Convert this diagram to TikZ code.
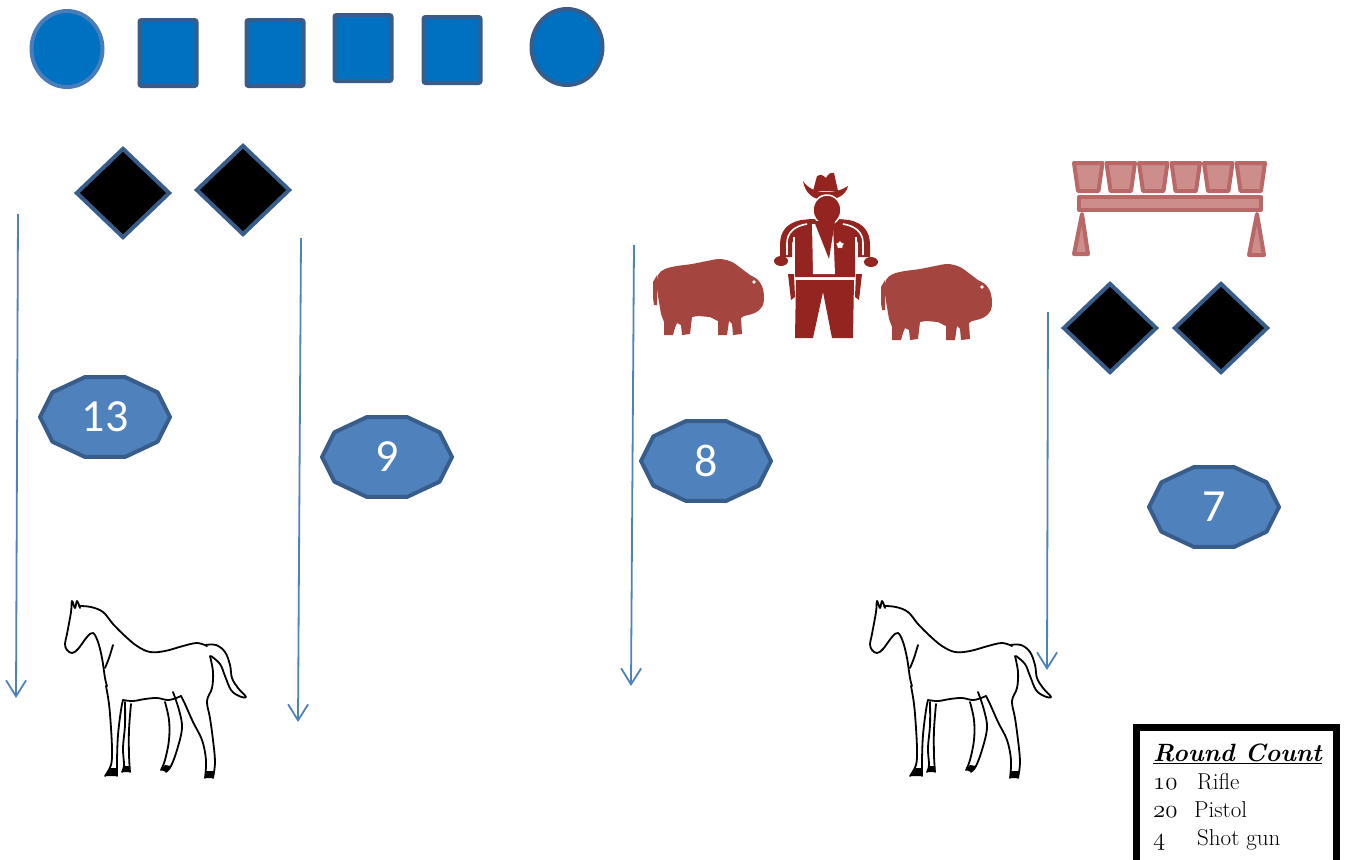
\documentclass[tikz,border=0pt]{standalone}
\usepackage{fontspec}
\newfontfamily\postfont{Carlito}
\usetikzlibrary{positioning,shapes.geometric,arrows.meta}
\definecolor{tgtblue}{HTML}{0070C0}
\definecolor{tgtedge}{HTML}{385D8A}
\definecolor{tgtlight}{HTML}{4A7EBB}
\definecolor{postfill}{HTML}{4F81BD}
\definecolor{runblue}{HTML}{4F81BD}
\definecolor{propred}{HTML}{93241F}
\definecolor{bisonred}{HTML}{A4453F}
\definecolor{rackedge}{HTML}{B86866}
\definecolor{rackfill}{HTML}{CC8D8B}
\newcommand\osn[1]{{\usefont{OML}{cmm}{m}{it}#1}}
\newcommand\stagepost[3]{%
  \filldraw[postline] (#2) +(0:65 and 42) \foreach \a in {36,72,...,324}{ -- +(\a:65 and 42)} -- cycle;
  \node[posttext] (#1) at (#2) {#3};}
\tikzset{
  plate/.style={ellipse,fill=tgtblue,draw=tgtedge,line width=4pt,minimum width=71pt,minimum height=76pt,inner sep=0pt},
  steel/.style={rectangle,rounded corners=2pt,fill=tgtblue,draw=tgtedge,line width=4pt,minimum width=57pt,minimum height=66pt,inner sep=0pt},
  shotgun/.style={diamond,fill=black,draw=tgtedge,line width=4pt,minimum width=94pt,minimum height=90pt,inner sep=0pt},
  postline/.style={fill=postfill,draw=tgtedge,line width=4pt,line join=round},
  posttext/.style={text=white,font=\postfont\fontsize{46}{46}\selectfont,inner sep=0pt},
  run/.style={draw=runblue,line width=1.8pt,-{Straight Barb[length=16pt,width=20pt]}},
  rackpart/.style={fill=rackfill,draw=rackedge,line width=4pt,line join=round},
  legendframe/.style={draw=black,line width=7pt,fill=white,minimum width=200pt,minimum height=150pt,inner sep=0pt},
  pony/.pic={
    \begin{scope}[line width=1.8pt,line cap=round,line join=round]
    \draw plot[smooth,tension=0.6] coordinates {(15,8) (12,1) (10,8) (7,1) (6,12) (2,34) (0,44) (2,50) (7,53) (13,49) (22,37) (28,33) (33,42) (37,58) (40,78) (42,86)};
    \draw plot[smooth,tension=0.6] coordinates {(14,6) (26,7) (38,12) (48,24) (60,36) (72,46) (85,52) (100,51) (118,46) (132,43) (142,46)};
    \draw plot[smooth,tension=0.6] coordinates {(140,45) (151,45) (160,52) (165,65) (167,78) (173,88) (181,97) (174,96) (166,90) (160,76) (155,64) (146,56)};
    \draw plot[smooth,tension=0.6] coordinates {(145,56) (148,72) (147,88) (142,101) (145,118) (148,140) (150,162) (148,178)};
    \draw plot[smooth,tension=0.6] coordinates {(140,178) (141,160) (137,140) (128,122) (120,104) (116,96)};
    \draw plot[smooth,tension=0.6] coordinates {(108,92) (114,110) (117,128) (112,150) (106,166) (101,172)};
    \draw plot[smooth,tension=0.6] coordinates {(96,170) (100,160) (104,140) (104,120) (100,102)};
    \draw plot[smooth,tension=0.6] coordinates {(116,96) (104,100) (92,98) (80,99) (68,101) (58,100)};
    \draw plot[smooth,tension=0.6] coordinates {(41,86) (44,104) (46,128) (47,150) (46,165) (40,176)};
    \draw plot[smooth,tension=0.6] coordinates {(52,176) (52,160) (53,135) (56,110) (58,100)};
    \draw plot[smooth,tension=0.6] coordinates {(60,102) (60,125) (58,148) (59,165) (57,172)};
    \draw plot[smooth,tension=0.6] coordinates {(65,172) (64,155) (64,130) (66,104)};
    \draw plot[smooth,tension=0.6] coordinates {(48,45) (44,58) (40,68)};
    \fill (40,176) -- (45,168) -- (52,168) -- (52,176) -- cycle;
    \fill (57,172) -- (59,166) -- (65,166) -- (65,172) -- cycle;
    \fill (96,170) -- (100,165) -- (106,166) -- (101,172) -- cycle;
    \fill (140,178) -- (141,171) -- (149,171) -- (148,178) -- cycle;
    \end{scope}
  },
  bison/.pic={
    \fill[bisonred] plot[smooth,tension=0.55] coordinates {(7,44) (5,30) (6,17) (13,11) (25,8) (40,6) (55,3) (68,1) (80,4) (90,11) (98,17) (105,21) (110,28) (112,38) (111,47) (106,53) (100,56) (92,58)} -- (89,60) -- (90,76) -- (81,77) -- (80,66) -- (77,63) -- (76,70) -- (75,77) -- (66,77) -- (66,63) -- (58,59) -- (46,58) -- (40,59) -- (38,76) -- (30,77) -- (29,67) -- (25,65) -- (23,70) -- (21,77) -- (12,77) -- (12,64) -- (9,56) -- cycle;
    \fill[bisonred] (5,17) -- (1,24) -- (1,40) -- (2,47) -- (5,47) -- (5,30) -- cycle;
    \fill[white] (102,24) circle [radius=1.8pt];
  },
  marshal/.pic={
    \begin{scope}[propred]
    \fill (-12,18) -- (-8,3) .. controls (-6,1) and (-3,1) .. (1,5) .. controls (3,1) and (6,-1) .. (9,0) -- (13,18) -- cycle;
    \fill (-22,8) .. controls (-20,20) and (-12,27) .. (0,27) .. controls (12,27) and (21,22) .. (23,13) .. controls (17,17) and (10,19) .. (0,19) .. controls (-10,19) and (-17,15) .. (-22,8) -- cycle;
    \fill (-14,46) -- (-24,47) .. controls (-38,50) and (-45,58) .. (-45,72) -- (-45,84) -- (-33,84) -- (-33,70) -- (-30,64) -- (-30,104) -- (30,104) -- (30,64) -- (33,70) -- (33,84) -- (45,84) -- (45,72) .. controls (45,58) and (38,50) .. (24,47) -- (14,46) -- cycle;
    \filldraw[draw=white,line width=1.5pt] (2,37) ellipse [x radius=14pt,y radius=15pt];
    \fill[white] (-13,51) -- (-12,101) -- (10,101) -- (8,51) -- cycle;
    \fill (-11,48) -- (10,48) -- (4,86) -- cycle;
    \draw[white,line width=1.6pt] (-18,51) .. controls (-31,53) and (-38,60) .. (-38,70) -- (-38,82);
    \draw[white,line width=1.6pt] (18,51) .. controls (31,53) and (38,60) .. (38,70) -- (38,82);
    \draw[white,line width=1.6pt] (-31,64) -- (-31,84);
    \draw[white,line width=1.6pt] (31,64) -- (31,84);
    \fill (-44,88) ellipse [x radius=7pt,y radius=5pt];
    \fill (46,89) ellipse [x radius=7pt,y radius=5pt];
    \node[star,star points=5,fill=white,minimum size=8pt,inner sep=0pt] (badge) at (15,72) {};
    \fill (-29,107) -- (29,107) -- (28,165) -- (7,165) -- (-2,119) -- (-12,165) -- (-30,165) -- cycle;
    \fill (-37,101) -- (-31,101) -- (-30,124) -- (-34,127) -- cycle;
    \fill (37,101) -- (31,101) -- (30,124) -- (34,127) -- cycle;
    \end{scope}
  },
  cartrack/.pic={
    \foreach \i in {0,...,5}
      \filldraw[rackpart] ({\i*32.5+2},2) -- ({\i*32.5+30.5},2) -- ({\i*32.5+26.5},30) -- ({\i*32.5+6},30) -- cycle;
    \filldraw[rackpart] (7,36) rectangle (189,49);
    \filldraw[rackpart] (10,53) -- (16,93) -- (2,93) -- cycle;
    \filldraw[rackpart] (185,53) -- (192,94) -- (177,94) -- cycle;
  }
}

\begin{document}
\begin{tikzpicture}[x=1pt,y=-1pt]
\useasboundingbox (0,0) rectangle (1345,860);
\clip (0,0) rectangle (1345,860);
% targets, top row
\node[plate,draw=tgtlight] (p1) at (67,49) {};
\node[steel] (s1) at (168,53) {};
\node[steel] (s2) at (275,53) {};
\node[steel] (s3) at (363,48) {};
\node[steel] (s4) at (452,50) {};
\node[plate] (p2) at (567,47) {};
% shotgun knockdowns
\node[shotgun] (d1) at (123,193) {};
\node[shotgun,right=22pt of d1,yshift=3pt] (d2) {};
\node[shotgun] (d3) at (1110,328) {};
\node[shotgun,right=13pt of d3] (d4) {};
% props
\pic at (652,258) {bison};
\pic at (825,173) {marshal};
\pic at (880,263) {bison};
\pic at (1072,161) {cartrack};
\pic at (65,600) {pony};
\pic at (870,600) {pony};
% shooting positions
\stagepost{q13}{105,417}{13}
\stagepost{q9}{387,457}{9}
\stagepost{q8}{706,461}{8}
\stagepost{q7}{1214,507}{7}
% movement
\coordinate (r1s) at (18,214);  \coordinate (r1e) at (16,698);
\coordinate (r2s) at (301,238); \coordinate (r2e) at (298,722);
\coordinate (r3s) at (634,245); \coordinate (r3e) at (631,686);
\coordinate (r4s) at (1048,312); \coordinate (r4e) at (1047,670);
\draw[run] (r1s) -- (r1e);
\draw[run] (r2s) -- (r2e);
\draw[run] (r3s) -- (r3e);
\draw[run] (r4s) -- (r4e);
% round count
\node[legendframe,anchor=north west] (frame) at (1133,724) {};
\node[anchor=base west,align=left,inner sep=0pt,font=\fontsize{23}{28}\selectfont] (count) at (1153,845)
  {{\fontsize{25}{28}\selectfont\bfseries\itshape\underline{Round Count}}\\
   \makebox[44pt][l]{\osn{10}}Rifle\\
   \makebox[41pt][l]{\osn{20}}Pistol\\
   \makebox[44pt][l]{\osn{4}}Shot gun};
\end{tikzpicture}
\end{document}
